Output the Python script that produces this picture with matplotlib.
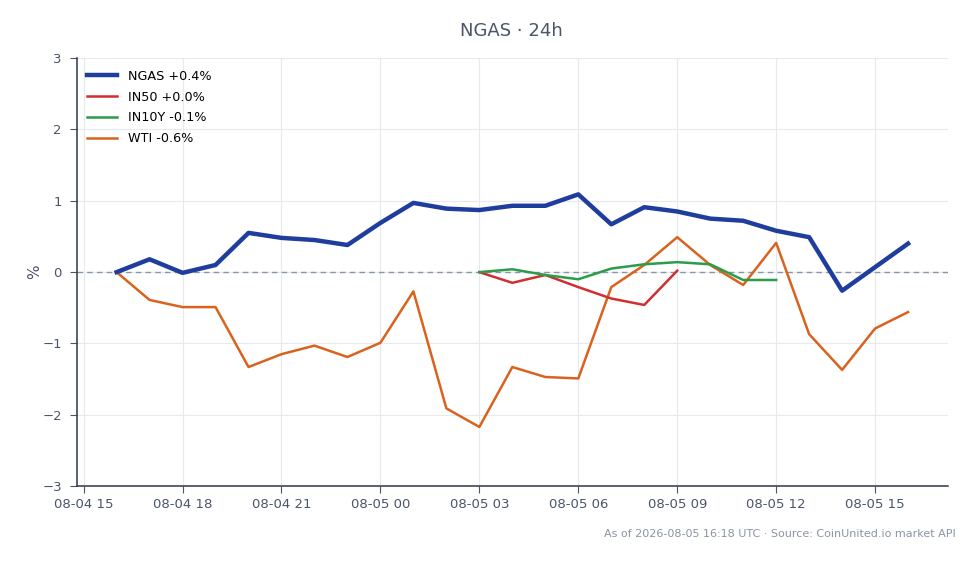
import matplotlib
matplotlib.use("Agg")
import matplotlib.pyplot as plt
import matplotlib.dates as mdates
import pandas as pd

times = pd.date_range("2026-08-04 16:00", "2026-08-05 16:00", freq="h")

ngas = [0.0, 0.18, -0.01, 0.10, 0.55, 0.48, 0.45, 0.38, 0.69, 0.97, 0.89, 0.87,
        0.93, 0.93, 1.09, 0.67, 0.91, 0.85, 0.75, 0.72, 0.58, 0.49, -0.26, 0.07, 0.40]
wti = [0.0, -0.39, -0.49, -0.49, -1.33, -1.15, -1.03, -1.19, -0.99, -0.27, -1.91, -2.17,
       -1.33, -1.47, -1.49, -0.21, 0.10, 0.49, 0.10, -0.18, 0.41, -0.87, -1.37, -0.79, -0.56]
in50_times = pd.date_range("2026-08-05 03:00", "2026-08-05 09:00", freq="h")
in50 = [0.0, -0.15, -0.04, -0.21, -0.37, -0.46, 0.02]
in10y_times = pd.date_range("2026-08-05 03:00", "2026-08-05 12:00", freq="h")
in10y = [0.0, 0.04, -0.04, -0.10, 0.05, 0.11, 0.14, 0.11, -0.11, -0.11]

labels = ["NGAS +0.4%", "IN50 +0.0%", "IN10Y -0.1%", "WTI -0.6%"]
title = "NGAS · 24h"
footer = "As of 2026-08-05 16:18 UTC · Source: CoinUnited.io market API"

txt = "#4a5568"
fig = plt.figure(figsize=(9.8, 5.64), dpi=100)
ax = fig.add_axes([0.0786, 0.138, 0.8884, 0.759])

ax.plot(times, ngas, color="#1f3d9c", lw=3.2, label=labels[0], zorder=5)
ax.plot(in50_times, in50, color="#cf2f2f", lw=1.8, label=labels[1], zorder=4)
ax.plot(in10y_times, in10y, color="#2a9d4a", lw=1.8, label=labels[2], zorder=4)
ax.plot(times, wti, color="#d9621e", lw=1.8, label=labels[3], zorder=3)
ax.axhline(0, color="#8896a8", lw=1, ls=(0, (4, 3)), zorder=2)

ax.set_ylim(-3, 3)
ax.margins(x=0.05)
ax.set_yticks([-3, -2, -1, 0, 1, 2, 3])
ax.set_yticklabels(["\u22123", "\u22122", "\u22121", "0", "1", "2", "3"])
ax.xaxis.set_major_locator(mdates.HourLocator(byhour=[0, 3, 6, 9, 12, 15, 18, 21]))
ax.xaxis.set_major_formatter(mdates.DateFormatter("%m-%d %H"))
ax.set_ylabel("%", color=txt, fontsize=11, labelpad=0)
ax.grid(True, color="#e6e9ee", lw=0.8)
ax.set_axisbelow(True)
for s in ["top", "right"]:
    ax.spines[s].set_visible(False)
for s in ["left", "bottom"]:
    ax.spines[s].set_color("#2d3748")
    ax.spines[s].set_linewidth(1.1)
ax.tick_params(colors=txt, labelsize=9.5, length=5)
ax.tick_params(axis="y", pad=6)

leg = ax.legend(loc="upper left", frameon=False, fontsize=9.2, handlelength=2.4,
                handletextpad=0.8, bbox_to_anchor=(-0.002, 1.0), labelspacing=0.62)
fig.text(0.522, 0.945, title, ha="center", va="center", fontsize=13, color=txt)
fig.text(0.975, 0.053, footer, ha="right", va="center", fontsize=8, color="#8a94a3")
fig.savefig("out.png", dpi=100, facecolor="white")
